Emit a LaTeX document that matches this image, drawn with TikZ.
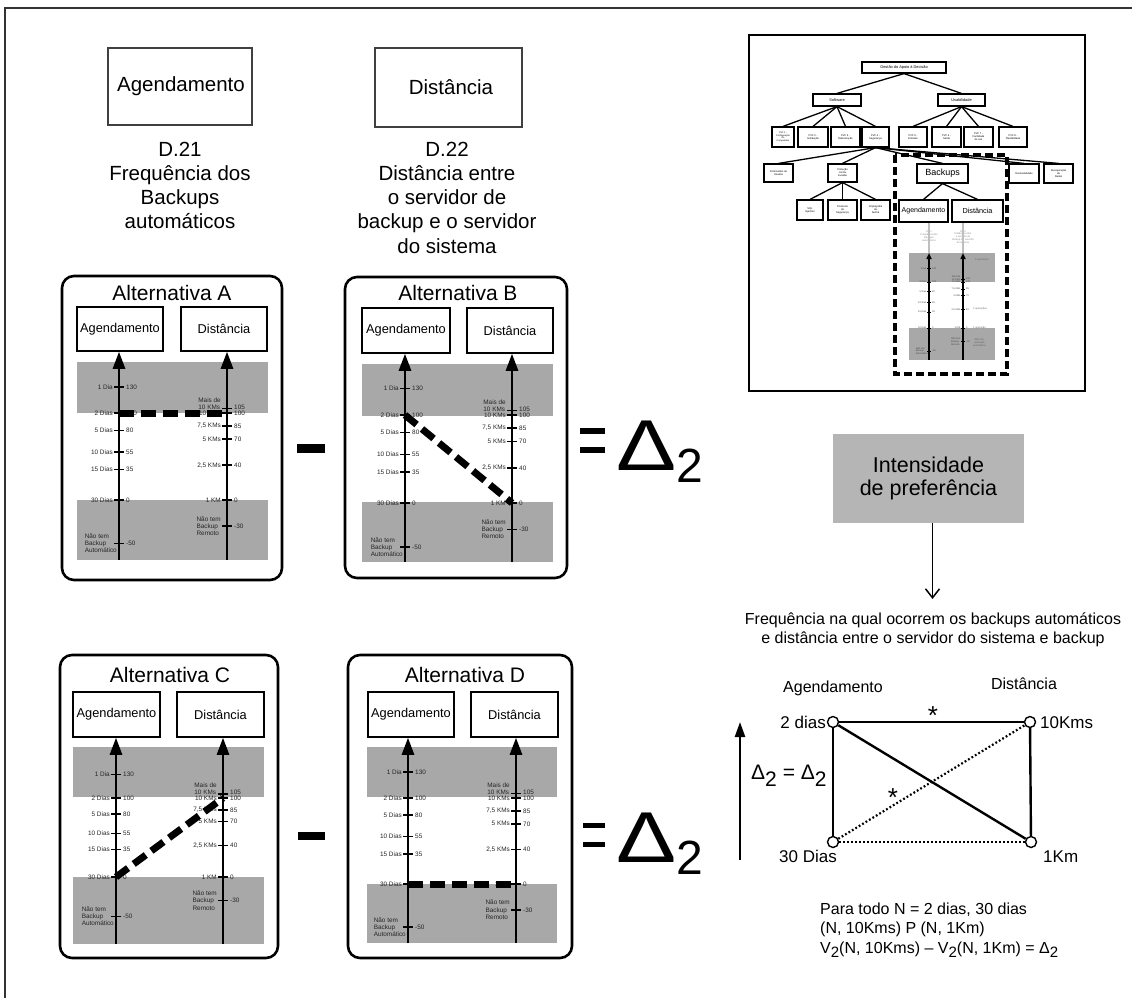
\documentclass[tikz,border=0pt]{standalone}
\usepackage{fontspec}
\setmainfont{Liberation Sans}
\usetikzlibrary{arrows.meta}
\newcommand\fs[2]{\fontsize{#1}{#2}\selectfont}
\definecolor{bandgray}{gray}{0.66}
\definecolor{prefgray}{gray}{0.71}
% offsets used by the value scales (tick half length, label gaps)
\newcommand\tkl{5}
\newcommand\lbo{6}
\newcommand\vlo{7}
\newcommand\nlo{2}
% Two vertical value scales: #1 prefix, #2 left x, #3 right x, #4 y of value 0, #5 px per unit
\newcommand\scalepair[5]{%
  \begin{scope}[shift={(#2,#4)},yscale=-#5]
    \foreach \v/\t in {130/1 Dia,100/2 Dias,80/5 Dias,55/10 Dias,35/15 Dias,0/30 Dias}{%
      \coordinate (#1-l\v) at (0,\v);
      \draw[tick] (-\tkl,\v) -- (\tkl,\v);
      \node[lbl,anchor=east] (#1-lt\v) at (-\lbo,\v) {\t};
      \node[lbl,anchor=west] (#1-lv\v) at (\vlo,\v) {\v};
    }
    \draw[tick] (-\tkl,-50) -- (\tkl,-50);
    \node[lbl,anchor=east] (#1-ltn) at (-\nlo,-50) {Não tem\\Backup\\Automático};
    \node[lbl,anchor=west] (#1-lvn) at (\vlo,-50) {-50};
  \end{scope}
  \begin{scope}[shift={(#3,#4)},yscale=-#5]
    \foreach \v/\t in {100/10 KMs,85/{7,5 KMs},70/5 KMs,40/{2,5 KMs},0/1 KM}{%
      \coordinate (#1-r\v) at (0,\v);
      \draw[tick] (-\tkl,\v) -- (\tkl,\v);
      \node[lbl,anchor=east] (#1-rt\v) at (-\lbo,\v) {\t};
      \node[lbl,anchor=west] (#1-rv\v) at (\vlo,\v) {\v};
    }
    \draw[tick] (-\tkl,105) -- (\tkl,105);
    \node[lbl,anchor=south east,yshift=-1] (#1-rtm) at (-\lbo,105) {Mais de\\10 KMs};
    \node[lbl,anchor=west,yshift=1.5] (#1-rvm) at (\vlo,105) {105};
    \draw[tick] (-\tkl,-30) -- (\tkl,-30);
    \node[lbl,anchor=east] (#1-rtn) at (-\lbo,-30) {Não tem\\Backup\\Remoto};
    \node[lbl,anchor=west] (#1-rvn) at (\vlo,-30) {-30};
  \end{scope}}
% small boxed node of the criteria tree: name, x, y, width, height, font size, text
\newcommand\mn[7]{\node[mnode,minimum width=#4,minimum height=#5,font=\fs{#6}{\dimexpr#6pt*115/100\relax}] (#1) at (#2,#3) {#7};}
% large delta with its index
\newcommand\bigdeltatext{\scalebox{1.25}[1]{\fs{72}{72}Δ}\raisebox{-12pt}{\fs{48}{48}2}}

\tikzset{
  x=1pt, y=-1pt,
  outer frame/.style={draw=black!80, line width=1.4},
  bigbox/.style={draw=black!75, line width=1.2, inner sep=0},
  bigtext/.style={font=\fs{20.5}{24.2}, align=center, inner sep=0},
  panelbox/.style={draw, line width=2.6, rounded corners=12},
  paneltitle/.style={font=\fs{21}{21}, inner sep=0},
  hdr/.style={draw, line width=1.5, fill=white, inner sep=0, font=\fs{12.8}{13}},
  band/.style={fill=bandgray},
  axis/.style={line width=2.6, -{Triangle[length=17pt,width=12pt]}},
  tick/.style={line width=1.5},
  lbl/.style={font=\fs{6.4}{7.2}, text=black!85, inner sep=0, align=left},
  choice/.style={line width=7, dash pattern=on 15pt off 7pt},
  opsign/.style={fill=black, inner sep=0},
  bigdelta/.style={inner sep=0, anchor=base west},
  mnode/.style={draw, line width=1.2, fill=white, inner sep=0, align=center},
  medge/.style={line width=1.3},
  vtx/.style={circle, draw, line width=1.4, fill=white, minimum size=11, inner sep=0},
  solid edge/.style={line width=2.4},
  dot edge/.style={line width=2.2, dash pattern=on 1.8pt off 2.2pt},
  gtext/.style={font=\fs{16}{19.5}, inner sep=0},
  vlabel/.style={font=\fs{17}{17}, inner sep=0},
  tiny/.style={font=\fs{2.5}{2.9}, text=black!60, inner sep=0, align=left},
}

\begin{document}
\begin{tikzpicture}
\useasboundingbox (0,0) rectangle (1132,998);
\clip (0,0) rectangle (1132,998);
\fill[white] (0,0) rectangle (1132,998);
\draw[outer frame] (5,8) rectangle (1150,1020);

% ---------- the two criteria ----------
\node[bigbox,minimum width=144,minimum height=77] (agbox) at (180,86.5) {};
\node[font=\fs{20.5}{24.2},inner sep=0] (agtxt) at (181,86) {Agendamento};
\node[bigbox,minimum width=147,minimum height=79] (dibox) at (448.5,87.5) {};
\node[font=\fs{20.5}{24.2},inner sep=0] (ditxt) at (451,87) {Distância};
\node[bigtext,anchor=north] (d21) at (180,141.7) {D.21\\Frequência dos\\Backups\\automáticos};
\node[bigtext,anchor=north] (d22) at (447,141.7) {D.22\\Distância entre\\o servidor de\\backup e o servidor\\do sistema};

% ---------- Alternativa A ----------
\draw[panelbox] (62,276) rectangle (282,580);
\fill[band] (77,362) rectangle (268,413);
\fill[band] (77,500) rectangle (268,560);
\node[paneltitle] (A-title) at (172,292.5) {Alternativa A};
\node[hdr,minimum width=86,minimum height=44] (A-ag) at (120,329) {Agendamento};
\node[hdr,minimum width=86,minimum height=44] (A-di) at (224,329) {Distância};
\coordinate (A-la) at (119,560);
\coordinate (A-ra) at (227,560);
\draw[axis] (A-la) -- (A-la |- A-ag.south);
\draw[axis] (A-ra) -- (A-ra |- A-di.south);
\scalepair{A}{119}{227}{500}{0.87}
\draw[choice] (A-l100) -- (A-r100);

% ---------- Alternativa B ----------
\draw[panelbox] (345,277) rectangle (567,578);
\fill[band] (362,364) rectangle (553,416);
\fill[band] (362,502) rectangle (553,562);
\node[paneltitle] (B-title) at (458,292.5) {Alternativa B};
\node[hdr,minimum width=88,minimum height=45] (B-ag) at (406,330.5) {Agendamento};
\node[hdr,minimum width=86,minimum height=45] (B-di) at (510,330.5) {Distância};
\coordinate (B-la) at (405,562);
\coordinate (B-ra) at (512,562);
\draw[axis] (B-la) -- (B-la |- B-ag.south);
\draw[axis] (B-ra) -- (B-ra |- B-di.south);
\scalepair{B}{405}{512}{503}{0.88}
\draw[choice] (B-l100) -- (B-r0);

% ---------- Alternativa C ----------
\draw[panelbox] (60,655) rectangle (278,958);
\fill[band] (73,747) rectangle (264,797);
\fill[band] (73,877) rectangle (264,944);
\node[paneltitle] (C-title) at (170,675) {Alternativa C};
\node[hdr,minimum width=87,minimum height=45] (C-ag) at (116.5,714.5) {Agendamento};
\node[hdr,minimum width=87,minimum height=45] (C-di) at (220.5,714.5) {Distância};
\coordinate (C-la) at (116,944);
\coordinate (C-ra) at (223,944);
\draw[axis] (C-la) -- (C-la |- C-ag.south);
\draw[axis] (C-ra) -- (C-ra |- C-di.south);
\scalepair{C}{116}{223}{877}{0.79}
\draw[choice] (C-l0) -- (C-r100);

% ---------- Alternativa D ----------
\draw[panelbox] (348,655) rectangle (572,958);
\fill[band] (367,747) rectangle (557,797);
\fill[band] (367,884) rectangle (557,943);
\node[paneltitle] (D-title) at (465,675) {Alternativa D};
\node[hdr,minimum width=86,minimum height=45] (D-ag) at (411,714.5) {Agendamento};
\node[hdr,minimum width=87,minimum height=45] (D-di) at (514.5,714.5) {Distância};
\coordinate (D-la) at (408,943);
\coordinate (D-ra) at (516,943);
\draw[axis] (D-la) -- (D-la |- D-ag.south);
\draw[axis] (D-ra) -- (D-ra |- D-di.south);
\scalepair{D}{408}{516}{884}{0.86}
\draw[choice] (D-l0) -- (D-r0);

% ---------- operators ----------
\node[opsign,minimum width=28,minimum height=9] (minus1) at (311,448) {};
\node[opsign,minimum width=25,minimum height=6] (eq1a) at (592.5,430.5) {};
\node[opsign,minimum width=25,minimum height=6] (eq1b) at (592.5,450) {};
\node[bigdelta] (delta1) at (616,470) {\bigdeltatext};
\node[opsign,minimum width=27,minimum height=8] (minus2) at (311.5,836) {};
\node[opsign,minimum width=22,minimum height=5.5] (eq2a) at (594,825.5) {};
\node[opsign,minimum width=22,minimum height=5.5] (eq2b) at (594,844.5) {};
\node[bigdelta] (delta2) at (616,862) {\bigdeltatext};

% ---------- criteria tree (top right) ----------
\draw[line width=1.4] (749,35) rectangle (1085,391);
\mn{root}{904}{67.5}{84}{11}{3.9}{Gestão do Apoio à Decisão}
\mn{soft}{837}{100}{48}{12}{3.9}{Software}
\mn{usab}{961.5}{100}{47}{12}{3.9}{Usabilidade}
\mn{pvf1}{783}{137}{22}{20}{2.3}{PVF 1 -\\Configuração\\do\\Computador}
\mn{pvf2}{813}{137}{30}{20}{2.6}{PVF 2 -\\Instalação}
\mn{pvf3}{845.5}{137}{29}{20}{2.6}{PVF 3 -\\Manutenção}
\mn{pvf4}{875.5}{137}{27}{20}{2.6}{PVF 4 -\\Segurança}
\mn{pvf5}{913}{137}{28}{20}{2.6}{PVF 5 -\\Entrada}
\mn{pvf6}{946.5}{137}{29}{20}{2.6}{PVF 6 -\\Saída}
\mn{pvf7}{978.5}{137}{29}{20}{2.6}{PVF 7 -\\Facilidade\\de uso}
\mn{pvf8}{1013}{137}{28}{20}{2.6}{PVF 8 -\\Flexibilidade}
\mn{perm}{778.5}{173}{29}{18}{2.6}{Permissões de\\Usuário}
\mn{prot}{842.5}{173}{29}{18}{2.6}{Proteção\\contra\\Invasão}
\mn{back}{942.5}{173.5}{51}{19}{9}{Backups}
\mn{rast}{1024}{173.5}{30}{19}{2.5}{Rastreabilidade}
\mn{recu}{1058.5}{173.5}{29}{19}{2.6}{Recuperação\\de\\Dados}
\mn{sql}{810}{210}{26}{20}{2.6}{SQL\\Injection}
\mn{proto}{842.5}{210}{29}{20}{2.6}{Protocolo\\de\\Segurança}
\mn{cript}{875.5}{210}{29}{20}{2.6}{Criptografia\\de\\Senha}
\mn{mag}{923.5}{211}{49}{22}{7}{Agendamento}
\mn{mdi}{977.5}{211}{51}{22}{7.3}{Distância}
\foreach \p/\c in {root/soft,root/usab,soft/pvf1,soft/pvf2,soft/pvf3,soft/pvf4,
  usab/pvf5,usab/pvf6,usab/pvf7,usab/pvf8,pvf4/perm,pvf4/prot,pvf4/back,pvf4/rast,
  pvf4/recu,prot/sql,prot/proto,prot/cript,back/mag,back/mdi}
  \draw[medge] (\p.south) -- (\c.north);
\draw[line width=4, dash pattern=on 8pt off 4pt] (895,155) rectangle (1007,374);
% miniature of the two scales
\fill[band] (909,253) rectangle (995,282);
\fill[band] (909,328) rectangle (995,360);
\node[tiny,align=center,text=black!45] (m21) at (929,236) {D.21\\Frequência dos\\Backups\\automáticos};
\node[tiny,align=center,text=black!45] (m22) at (963,237) {D.22\\Distância entre\\o servidor de\\backup e o servidor\\do sistema};
\coordinate (mla) at (929,360);
\coordinate (mra) at (963,360);
\draw[line width=1.6,black!25] (mag.south -| mla) -- (929,253);
\draw[line width=1.6,black!25] (mdi.south -| mra) -- (963,253);
\draw[line width=1.5,-{Triangle[length=6pt,width=5pt]}] (mla) -- (929,253);
\draw[line width=1.5,-{Triangle[length=6pt,width=5pt]}] (mra) -- (963,253);
\begin{scope}[tick/.style={line width=0.8},lbl/.style={font=\fs{2.4}{2.8},text=black!70,inner sep=0,align=left}]
  \renewcommand\tkl{2}\renewcommand\lbo{2.5}\renewcommand\vlo{3}\renewcommand\nlo{1}
  \scalepair{M}{929}{963}{328}{0.46}
\end{scope}
\node[tiny,anchor=west] (mop4) at (975,260) {4 operações};
\node[tiny,anchor=west] (mop2) at (973,309) {2 operações};
\node[tiny,anchor=west] (mop1) at (973,328) {1 operação};
\node[tiny,anchor=west,align=center] (mop0) at (973,343) {Não tem\\operação\\automática};

% ---------- preference intensity ----------
\node[fill=prefgray,minimum width=191,minimum height=89,align=center,font=\fs{21.5}{23},inner sep=0] (pref) at (928.5,478.5) {Intensidade\\de preferência};
\coordinate (freqtop) at (932.5,599);
\draw[line width=1.5,-{Straight Barb[length=9pt,width=14pt]}] (pref.south -| freqtop) -- (freqtop);
\node[gtext,anchor=base] (freq1) at (933,624.5) {Frequência na qual ocorrem os backups automáticos};
\node[gtext,anchor=base] (freq2) at (933,643.5) {e distância entre o servidor do sistema e backup};

% ---------- difference graph ----------
\node[gtext,anchor=base] (g-ag) at (833,692) {Agendamento};
\node[gtext,anchor=base] (g-di) at (1024,689) {Distância};
\node[vtx] (v2d) at (833,722) {};
\node[vtx] (v10) at (1030,722) {};
\node[vtx] (v30) at (833,842) {};
\node[vtx] (v1k) at (1031,842) {};
\draw[solid edge] (v2d) -- (v10);
\draw[solid edge] (v2d) -- (v30);
\draw[solid edge] (v10) -- (v1k);
\draw[solid edge] (v2d) -- (v1k);
\draw[dot edge] (v30) -- (v1k);
\draw[dot edge] (v30) -- (v10);
\node[vlabel,anchor=base east] (l2d) at (826,728) {2 dias};
\node[vlabel,anchor=base west] (l10) at (1040,728) {10Kms};
\node[vlabel,anchor=base east] (l30) at (837,862) {30 Dias};
\node[vlabel,anchor=base west] (l1k) at (1043,862) {1Km};
\node[font=\fs{26}{26},inner sep=0,anchor=north] (star1) at (933,706) {*};
\node[font=\fs{26}{26},inner sep=0,anchor=north] (star2) at (893,788) {*};
\coordinate (ua-b) at (740,860);
\coordinate (ua-t) at (740,722);
\draw[line width=2.4,-{Triangle[length=15pt,width=10pt]}] (ua-b) -- (ua-t);
\node[font=\fs{21}{21},inner sep=0,anchor=base west] (dd) at (751,779) {Δ\raisebox{-7pt}{2} = Δ\raisebox{-7pt}{2}};
\node[gtext,anchor=base west] (p1) at (820,914) {Para todo N = 2 dias, 30 dias};
\node[gtext,anchor=base west] (p2) at (820,933) {(N, 10Kms) P (N, 1Km)};
\node[gtext,anchor=base west] (p3) at (820,953) {V\raisebox{-4pt}{\fs{15}{15}2}(N, 10Kms) – V\raisebox{-4pt}{\fs{15}{15}2}(N, 1Km) = Δ\raisebox{-4pt}{\fs{15}{15}2}};
\end{tikzpicture}
\end{document}
